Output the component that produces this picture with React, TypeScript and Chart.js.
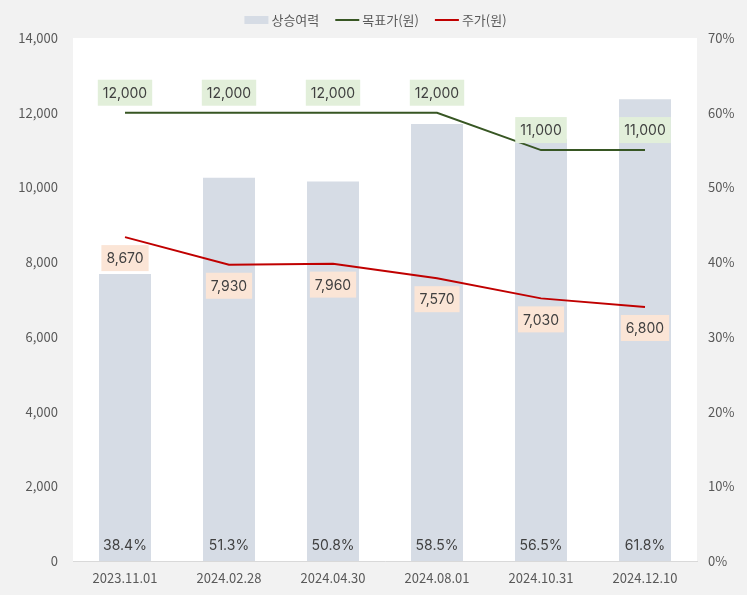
import React, { useEffect, useRef } from "react";
import { Chart, registerables } from "chart.js";

Chart.register(...registerables);

const categories = ["2023.11.01", "2024.02.28", "2024.04.30", "2024.08.01", "2024.10.31", "2024.12.10"];
const upside = [38.4, 51.3, 50.8, 58.5, 56.5, 61.8];
const targetPrice = [12000, 12000, 12000, 12000, 11000, 11000];
const stockPrice = [8670, 7930, 7960, 7570, 7030, 6800];
const legendLabels = ["상승여력", "목표가(원)", "주가(원)"];

const BAR_COLOR = "#d6dce5";
const GREEN = "#375623";
const RED = "#c00000";
const TEXT = "#404040";
const TICK = "#595959";

const bgPlugin = {
  id: "bgPlugin",
  beforeDraw(chart: any) {
    const { ctx, chartArea, width, height } = chart;
    ctx.save();
    ctx.fillStyle = "#f2f2f2";
    ctx.fillRect(0, 0, width, height);
    ctx.fillStyle = "#ffffff";
    ctx.fillRect(chartArea.left, chartArea.top, chartArea.right - chartArea.left, chartArea.bottom - chartArea.top);
    ctx.restore();
  },
};

const labelPlugin = {
  id: "labelPlugin",
  afterDatasetsDraw(chart: any) {
    const { ctx, chartArea } = chart;
    ctx.save();
    ctx.font = "14px Inter, 'Noto Sans', sans-serif";
    ctx.textAlign = "center";
    ctx.textBaseline = "middle";
    // bar labels
    const barMeta = chart.getDatasetMeta(0);
    barMeta.data.forEach((el: any, i: number) => {
      ctx.fillStyle = TEXT;
      ctx.fillText(upside[i].toFixed(1) + "%", el.x, chartArea.bottom - 15);
    });
    const drawBox = (x: number, y: number, text: string, bg: string) => {
      const w = ctx.measureText(text).width + 10;
      const h = 26;
      ctx.fillStyle = bg;
      ctx.fillRect(x - w / 2, y - h / 2, w, h);
      ctx.fillStyle = TEXT;
      ctx.fillText(text, x, y + 1);
    };
    const tMeta = chart.getDatasetMeta(1);
    tMeta.data.forEach((el: any, i: number) => {
      drawBox(el.x, el.y - 20, targetPrice[i].toLocaleString("en-US"), "#e2efda");
    });
    const pMeta = chart.getDatasetMeta(2);
    pMeta.data.forEach((el: any, i: number) => {
      drawBox(el.x, el.y + 21, stockPrice[i].toLocaleString("en-US"), "#fbe5d6");
    });
    ctx.restore();
  },
};

const legendPlugin = {
  id: "customLegend",
  afterDraw(chart: any) {
    const { ctx } = chart;
    ctx.save();
    ctx.font = "13px 'Noto Sans CJK KR', sans-serif";
    ctx.textBaseline = "middle";
    ctx.textAlign = "left";
    const y = 20;
    const items = [
      { label: legendLabels[0], type: "box", color: BAR_COLOR },
      { label: legendLabels[1], type: "line", color: GREEN },
      { label: legendLabels[2], type: "line", color: RED },
    ];
    const symW = 24;
    const gap = 3;
    const between = 16;
    let total = 0;
    items.forEach((it, i) => {
      total += symW + gap + ctx.measureText(it.label).width + (i < items.length - 1 ? between : 0);
    });
    let x = 747 / 2 - total / 2 + 2;
    items.forEach((it) => {
      if (it.type === "box") {
        ctx.fillStyle = it.color;
        ctx.fillRect(x, y - 4, symW, 8);
      } else {
        ctx.strokeStyle = it.color;
        ctx.lineWidth = 2;
        ctx.beginPath();
        ctx.moveTo(x, y);
        ctx.lineTo(x + symW, y);
        ctx.stroke();
      }
      x += symW + gap;
      ctx.fillStyle = TICK;
      ctx.fillText(it.label, x, y);
      x += ctx.measureText(it.label).width + between;
    });
    ctx.restore();
  },
};

export default function App() {
  const ref = useRef<HTMLCanvasElement | null>(null);
  useEffect(() => {
    document.body.style.margin = "0";
    const canvas = ref.current!;
    const tickFont = { family: "'Noto Sans CJK KR', 'Noto Sans', sans-serif", size: 13 };
    const chart = new Chart(canvas, {
      type: "bar",
      data: {
        labels: categories,
        datasets: [
          {
            type: "bar",
            label: legendLabels[0],
            data: upside,
            backgroundColor: BAR_COLOR,
            yAxisID: "y1",
            barPercentage: 1,
            categoryPercentage: 0.5,
            order: 3,
          } as any,
          {
            type: "line",
            label: legendLabels[1],
            data: targetPrice,
            borderColor: GREEN,
            borderWidth: 2,
            pointRadius: 0,
            yAxisID: "y",
            order: 1,
          },
          {
            type: "line",
            label: legendLabels[2],
            data: stockPrice,
            borderColor: RED,
            borderWidth: 2,
            pointRadius: 0,
            yAxisID: "y",
            order: 2,
          },
        ],
      },
      options: {
        animation: false,
        responsive: false,
        layout: { padding: { top: 38, right: 0, left: 0, bottom: 0 } },
        plugins: { legend: { display: false }, tooltip: { enabled: false } },
        scales: {
          x: {
            grid: { display: false, drawTicks: false },
            border: { color: "#d9d9d9", width: 1 },
            ticks: { color: TICK, font: tickFont, padding: 9 },
            afterFit: (s: any) => { s.height = 34; },
          },
          y: {
            position: "left",
            min: 0,
            max: 14000,
            grid: { display: false, drawTicks: false },
            border: { display: false },
            ticks: {
              stepSize: 2000,
              color: TICK,
              font: tickFont,
              padding: 15,
              callback: (v: any) => Number(v).toLocaleString("en-US"),
            },
            afterFit: (s: any) => { s.width = 73; },
          },
          y1: {
            position: "right",
            min: 0,
            max: 70,
            grid: { display: false, drawTicks: false },
            border: { display: false },
            ticks: {
              stepSize: 10,
              color: TICK,
              font: tickFont,
              padding: 11,
              callback: (v: any) => v + "%",
            },
            afterFit: (s: any) => { s.width = 50; },
          },
        },
      } as any,
      plugins: [bgPlugin, labelPlugin, legendPlugin],
    });
    return () => chart.destroy();
  }, []);
  return (
    <div style={{ position: "absolute", left: 0, top: 0, width: 747, height: 595 }}>
      <canvas ref={ref} width={747} height={595} style={{ display: "block" }} />
    </div>
  );
}
